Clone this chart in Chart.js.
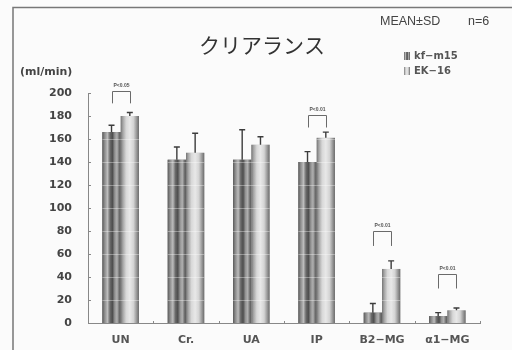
<!DOCTYPE html>
<html lang="ja">
<head>
<meta charset="utf-8">
<script src="https://cdn.jsdelivr.net/npm/chart.js@4/dist/chart.umd.min.js"></script>
<style>
  html, body { margin: 0; padding: 0; background: #fbfbfb; }
  #wrap { width: 512px; height: 350px; position: relative; }
</style>
</head>
<body>
<div id="wrap"><canvas id="c" width="512" height="350"></canvas></div>
<script>
// Clearance per analyte (ml/min), mean and SD, n=6
const categories = ['UN', 'Cr.', 'UA', 'IP', 'B2−MG', 'α1−MG'];
const seriesNames = ['kf−m15', 'EK−16'];
const kfMean = [166, 142, 142, 140, 9, 6];
const kfSD   = [6, 11, 26, 9, 8, 3];
const ekMean = [180, 148, 155, 161, 47, 11];
const ekSD   = [3, 17, 7, 5, 7, 2];
const yTicks = [0, 20, 40, 60, 80, 100, 120, 140, 160, 180, 200];

// Significance brackets: category index, label, bracket top and leg end (ml/min)
const sigIndex  = [0, 3, 4, 5];
const sigLabel  = ['P<0.05', 'P<0.01', 'P<0.01', 'P<0.01'];
const sigTop    = [202, 181, 80, 43];
const sigLegEnd = [191, 170, 67, 30];

const sdBySeries = [kfSD, ekSD];

// Vertical stripe shading for each series
const stripeStops = [
  [[0, '#5a5a5a'], [0.12, '#8a8a8a'], [0.28, '#bcbcbc'], [0.42, '#6a6a6a'], [0.55, '#4e4e4e'],
   [0.68, '#949494'], [0.8, '#b0b0b0'], [0.92, '#6e6e6e'], [1, '#5c5c5c']],
  [[0, '#747474'], [0.12, '#a4a4a4'], [0.3, '#d8d8d8'], [0.5, '#e8e8e8'], [0.7, '#d4d4d4'],
   [0.86, '#9c9c9c'], [1, '#6a6a6a']]
];

function stripeFill(ctx, x0, x1, stops) {
  const g = ctx.createLinearGradient(x0, 0, x1, 0);
  stops.forEach(s => g.addColorStop(s[0], s[1]));
  return g;
}

const barDecor = {
  id: 'barDecor',
  afterDatasetsDraw(chart) {
    const ctx = chart.ctx;
    const y = chart.scales.y;
    ctx.save();
    // striped bar faces
    chart.data.datasets.forEach((ds, di) => {
      const meta = chart.getDatasetMeta(di);
      meta.data.forEach(el => {
        const x0 = el.x - el.width / 2, x1 = el.x + el.width / 2;
        ctx.fillStyle = stripeFill(ctx, x0, x1, stripeStops[di]);
        ctx.fillRect(x0, el.y, el.width, el.base - el.y);
      });
    });
    // faint white bands every 20 ml/min across the bars
    ctx.strokeStyle = 'rgba(255,255,255,0.35)';
    ctx.lineWidth = 1;
    chart.data.datasets.forEach((ds, di) => {
      const meta = chart.getDatasetMeta(di);
      meta.data.forEach(el => {
        const x0 = el.x - el.width / 2, x1 = el.x + el.width / 2;
        yTicks.forEach(t => {
          const py = Math.round(y.getPixelForValue(t)) + 0.5;
          if (t > 0 && py > el.y + 1) {
            ctx.beginPath(); ctx.moveTo(x0, py); ctx.lineTo(x1, py); ctx.stroke();
          }
        });
      });
    });
    // SD error bars (upper side only)
    ctx.strokeStyle = '#3c3c3c';
    ctx.lineWidth = 1.4;
    chart.data.datasets.forEach((ds, di) => {
      const meta = chart.getDatasetMeta(di);
      meta.data.forEach((el, i) => {
        const top = y.getPixelForValue(ds.data[i] + sdBySeries[di][i]);
        ctx.beginPath();
        ctx.moveTo(el.x, el.y);
        ctx.lineTo(el.x, top);
        ctx.moveTo(el.x - 3, top);
        ctx.lineTo(el.x + 3, top);
        ctx.stroke();
      });
    });
    // significance brackets
    const m0 = chart.getDatasetMeta(0), m1 = chart.getDatasetMeta(1);
    ctx.strokeStyle = '#6a6a6a';
    ctx.lineWidth = 1;
    ctx.fillStyle = '#555';
    ctx.font = 'bold 5px "Liberation Sans"';
    ctx.textAlign = 'center';
    ctx.textBaseline = 'bottom';
    sigIndex.forEach((ci, k) => {
      const xa = Math.round(m0.data[ci].x) + 0.5, xb = Math.round(m1.data[ci].x) + 0.5;
      const yt = Math.round(y.getPixelForValue(sigTop[k])) + 0.5;
      const yl = y.getPixelForValue(sigLegEnd[k]);
      ctx.beginPath();
      ctx.moveTo(xa, yl); ctx.lineTo(xa, yt); ctx.lineTo(xb, yt); ctx.lineTo(xb, yl);
      ctx.stroke();
      ctx.fillText(sigLabel[k], (xa + xb) / 2, yt - 3);
    });
    ctx.restore();
  },
  afterDraw(chart) {
    const ctx = chart.ctx;
    const a = chart.chartArea;
    const x = chart.scales.x, y = chart.scales.y;
    ctx.save();
    // frame lines
    ctx.strokeStyle = '#777';
    ctx.lineWidth = 1.5;
    ctx.beginPath();
    ctx.moveTo(13, 350); ctx.lineTo(13, 7.5); ctx.lineTo(512, 7.5);
    ctx.stroke();
    // small inward ticks on the value axis
    ctx.strokeStyle = '#888';
    ctx.lineWidth = 1;
    yTicks.forEach(t => {
      const py = Math.round(y.getPixelForValue(t)) + 0.5;
      ctx.beginPath(); ctx.moveTo(a.left, py); ctx.lineTo(a.left + 3, py); ctx.stroke();
    });
    // small ticks between categories
    for (let i = 0; i <= categories.length; i++) {
      const px = Math.round(x.getPixelForValue(i - 0.5)) + 0.5;
      ctx.beginPath(); ctx.moveTo(px, a.bottom); ctx.lineTo(px, a.bottom - 2); ctx.stroke();
    }
    // title
    ctx.fillStyle = '#333';
    ctx.font = '21px "Noto Sans CJK JP"';
    ctx.textAlign = 'center';
    ctx.textBaseline = 'middle';
    ctx.fillText('クリアランス', 262, 45);
    // statistics note
    ctx.font = '12.5px "Liberation Sans"';
    ctx.fillStyle = '#444';
    ctx.textAlign = 'left';
    ctx.fillText('MEAN±SD', 380, 22);
    ctx.fillText('n=6', 468, 22);
    // unit label
    ctx.font = 'bold 11px "DejaVu Sans"';
    ctx.fillStyle = '#444';
    ctx.fillText('(ml/min)', 20, 72);
    // legend
    ctx.font = 'bold 10px "DejaVu Sans"';
    seriesNames.forEach((name, i) => {
      const ly = 56 + i * 15;
      ctx.fillStyle = stripeFill(ctx, 404, 410, stripeStops[i]);
      ctx.fillRect(404, ly - 4, 6, 8);
      ctx.fillStyle = '#555';
      ctx.fillText(name, 414, ly);
    });
    ctx.restore();
  }
};

new Chart(document.getElementById('c'), {
  type: 'bar',
  data: {
    labels: categories,
    datasets: [
      { label: seriesNames[0], data: kfMean, backgroundColor: '#777' },
      { label: seriesNames[1], data: ekMean, backgroundColor: '#ccc' }
    ]
  },
  options: {
    responsive: false,
    animation: false,
    devicePixelRatio: 1,
    layout: { padding: { top: 93, right: 32, bottom: 0, left: 0 } },
    datasets: { bar: { categoryPercentage: 0.56, barPercentage: 1.0 } },
    plugins: { legend: { display: false }, tooltip: { enabled: false }, title: { display: false } },
    scales: {
      x: {
        grid: { display: false, drawTicks: false },
        border: { display: true, color: '#888', width: 1 },
        ticks: { padding: 11, color: '#555', font: { family: 'DejaVu Sans', size: 11, weight: 'bold' } },
        afterFit(s) { s.height = 27; }
      },
      y: {
        min: 0, max: 200,
        afterBuildTicks(s) { s.ticks = yTicks.map(v => ({ value: v })); },
        grid: { display: false, drawTicks: false },
        border: { display: true, color: '#888', width: 1 },
        ticks: { padding: 16, color: '#444', font: { family: 'DejaVu Sans', size: 11, weight: 'bold' } },
        afterFit(s) { s.width = 88; }
      }
    }
  },
  plugins: [barDecor]
});
</script>
</body>
</html>
